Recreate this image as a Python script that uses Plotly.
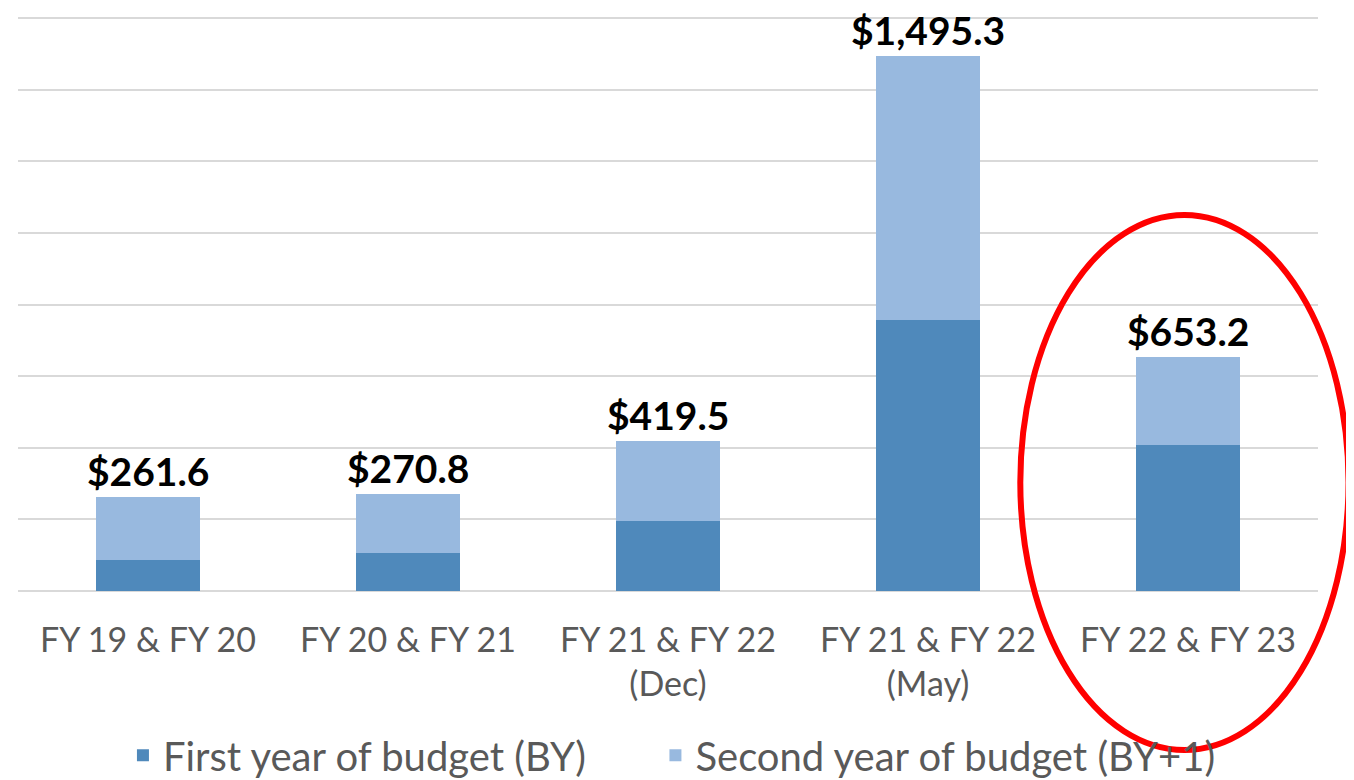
import plotly.graph_objects as go

categories = ["FY 19 & FY 20", "FY 20 & FY 21", "FY 21 & FY 22<br>(Dec)",
              "FY 21 & FY 22<br>(May)", "FY 22 & FY 23"]
first_year = [86.0, 106.0, 195.0, 756.0, 409.0]
second_year = [175.6, 164.8, 224.5, 739.3, 244.2]
totals = [261.6, 270.8, 419.5, 1495.3, 653.2]
total_labels = ["$261.6", "$270.8", "$419.5", "$1,495.3", "$653.2"]

DARK = "#4F89BB"
LIGHT = "#98B9DF"
FONT = "Lato, Carlito, 'Open Sans', sans-serif"

fig = go.Figure()
fig.add_trace(go.Bar(x=categories, y=first_year, name="First year of budget (BY)",
                     marker=dict(color=DARK, line=dict(width=0)), legend="legend"))
fig.add_trace(go.Bar(x=categories, y=second_year, name="Second year of budget (BY+1)",
                     marker=dict(color=LIGHT, line=dict(width=0)), legend="legend2"))

for c, t, lab in zip(categories, totals, total_labels):
    fig.add_annotation(x=c, y=t, text="<b>" + lab + "</b>", showarrow=False,
                       yanchor="bottom", yshift=1,
                       font=dict(family=FONT, size=39, color="#000000"))

# red ellipse highlight
fig.add_shape(type="circle", xref="paper", yref="paper",
              x0=0.771, x1=1.0235, y0=-0.2765, y1=0.654,
              line=dict(color="#FF0000", width=6), fillcolor="rgba(0,0,0,0)")

legend_common = dict(orientation="h", xref="container", yref="container",
                     xanchor="left", y=0.032, yanchor="middle",
                     bgcolor="rgba(0,0,0,0)",
                     font=dict(size=40, color="#595959"), itemwidth=30)

fig.update_layout(
    width=1346, height=772,
    barmode="stack", bargap=0.6,
    plot_bgcolor="white", paper_bgcolor="white",
    margin=dict(l=10, r=36, t=8, b=189, autoexpand=False),
    font=dict(family=FONT, color="#595959"),
    xaxis=dict(tickfont=dict(size=34, color="#595959"), showline=False,
               ticks="", showgrid=False, automargin=False, ticklabelstandoff=26),
    yaxis=dict(range=[0, 1606], dtick=200, showticklabels=False, automargin=False,
               showgrid=True, gridcolor="#D9D9D9", gridwidth=1.5,
               zeroline=True, zerolinecolor="#D9D9D9", zerolinewidth=1.5),
    legend=dict(x=0.0854, **legend_common),
    legend2=dict(x=0.481, **legend_common),
    showlegend=True,
)

fig.write_html("out.html")
